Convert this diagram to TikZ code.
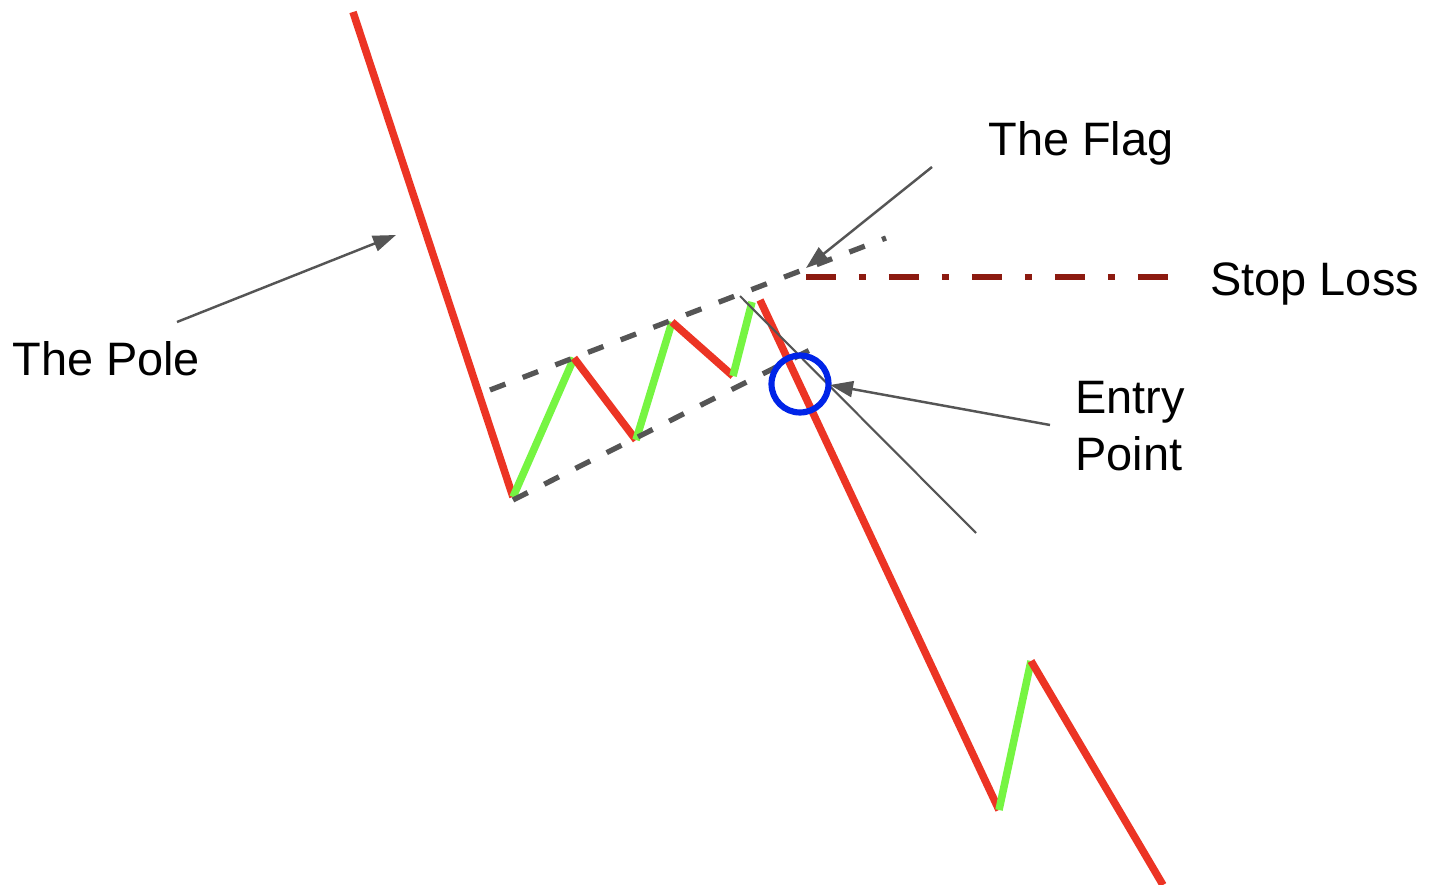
\documentclass[tikz,border=0pt]{standalone}
\usepackage{fontspec}
\setmainfont{Liberation Sans}
\usetikzlibrary{arrows.meta}

\definecolor{polered}{RGB}{236,52,36}
\definecolor{flaggreen}{RGB}{118,245,66}
\definecolor{stopred}{RGB}{140,26,16}
\definecolor{entryblue}{RGB}{0,36,232}
\definecolor{guide}{RGB}{85,85,85}

\begin{document}
\begin{tikzpicture}[x=0.02cm,y=-0.02cm,>={Triangle[length=4.6mm,width=3.2mm]},
note/.style={font=\fontsize{26.7}{32}\selectfont, inner sep=0pt, align=left},
down/.style={draw=polered, line width=4.3pt},
up/.style={draw=flaggreen, line width=4.3pt},
channel/.style={draw=guide, line width=3pt, dash pattern=on 0.33cm off 0.37cm},
stopline/.style={draw=stopred, line width=3.5pt, dash pattern=on 0.6cm off 0.46cm on 0.14cm off 0.46cm},
pointer/.style={->, draw=guide, line width=1.4pt}]
\useasboundingbox (0,0) rectangle (1441,885);
% price swings
\coordinate (top) at (353,12);
\coordinate (low1) at (513,497);
\coordinate (hi1) at (574,358);
\coordinate (low2) at (636,440);
\coordinate (hi2) at (672,322);
\coordinate (low3) at (733,376);
\coordinate (hi3) at (752,302);
\coordinate (brk) at (760,300);
\coordinate (low4) at (999,810);
\coordinate (hi4) at (1031,661);
\coordinate (end) at (1163,885);
\draw[down] (top) -- (low1);
\draw[up] (low1) -- (hi1);
\draw[down] (hi1) -- (low2);
\draw[up] (low2) -- (hi2);
\draw[down] (hi2) -- (low3);
\draw[up] (low3) -- (hi3);
\draw[down] (brk) -- (low4);
\draw[up] (low4) -- (hi4);
\draw[down] (hi4) -- (end);
% flag channel
\coordinate (upA) at (490,390);
\coordinate (upB) at (886,238);
\coordinate (loA) at (513,500);
\coordinate (loB) at (812,349);
\draw[channel] (upA) -- (upB);
\draw[channel] (loA) -- (loB);
\coordinate (stopA) at (806,277);
\coordinate (stopB) at (1172,277);
\draw[stopline] (stopA) -- (stopB);
\coordinate (trendA) at (740,296);
\coordinate (trendB) at (976,533);
\draw[guide, line width=1.2pt] (trendA) -- (trendB);
\node[draw=entryblue, line width=3.5pt, circle, minimum size=1.14cm, inner sep=0pt] (entrypt) at (800,384) {};
% labels
\node[note, anchor=base west] (pole) at (12,376) {The Pole};
\node[note, anchor=base west] (flag) at (988,156) {The Flag};
\node[note, anchor=base west] (stop) at (1210,296) {Stop Loss};
\node[note, anchor=west] (entry) at (1075,426) {Entry\\Point};
\coordinate (poleFrom) at (177,322);
\coordinate (poleTip) at (396,235);
\coordinate (flagFrom) at (932,167);
\coordinate (flagTip) at (806,268);
\coordinate (entryFrom) at (1050,425);
\coordinate (entryTip) at (830,385);
\draw[pointer] (poleFrom) -- (poleTip);
\draw[pointer] (flagFrom) -- (flagTip);
\draw[pointer] (entryFrom) -- (entryTip);
\end{tikzpicture}
\end{document}
